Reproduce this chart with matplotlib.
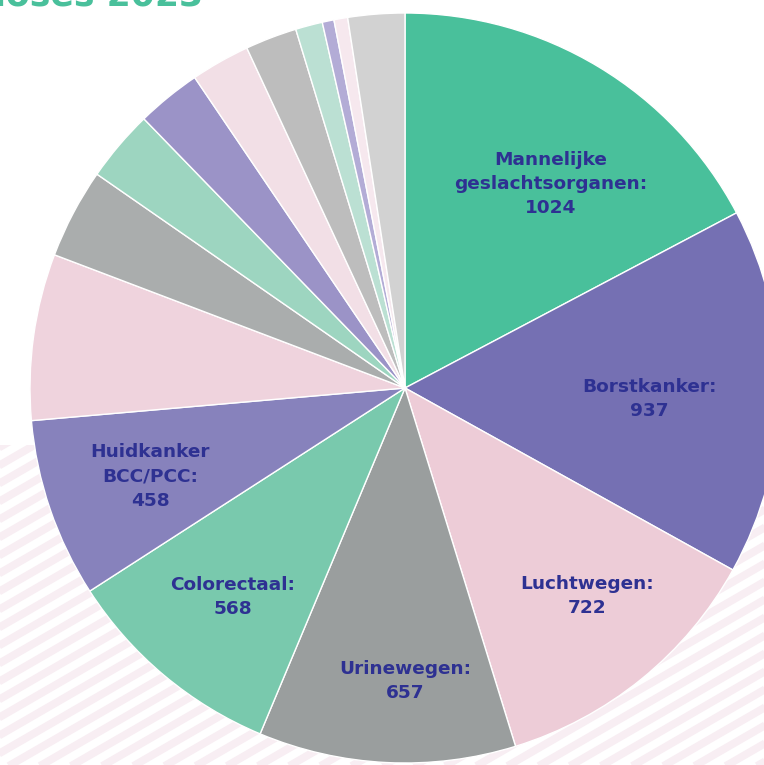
import numpy as np
import matplotlib
matplotlib.use("Agg")
import matplotlib.pyplot as plt
from matplotlib.patches import Rectangle

# ---- data ----
categories = ["Mannelijke\ngeslachtsorganen", "Borstkanker", "Luchtwegen", "Urinewegen",
              "Colorectaal", "Huidkanker\nBCC/PCC", "", "", "", "", "", "", "", "", "", ""]
values = [1024, 937, 722, 657, 568, 458, 425, 230, 183, 165, 151, 132, 69, 30, 35, 145]
colors = ["#49C09B", "#7570B3", "#EDCCD7", "#9A9E9E", "#79C9AD", "#8782BC",
          "#EFD3DD", "#AAADAD", "#9DD5C0", "#9B93C7", "#F2DFE6", "#BDBDBD",
          "#BBE0D3", "#B3ACD6", "#F6E8EE", "#D2D2D2"]
title = "Diagnoses 2023"

# ---- style / layout ----
W, H = 764, 765
cx, cy, R = 405, 377, 375
label_r = [0.669, 0.653, 0.736, 0.781, 0.723, 0.72]
label_dang = [-4.5, -2.0, 2.1, 2.8, 0.5, 0.3]
text_color = "#2E3192"

fig = plt.figure(figsize=(W / 100, H / 100), dpi=100)
ax = fig.add_axes([0, 0, 1, 1])

# background stripes
clip = Rectangle((0, 0), W, H - 445, transform=ax.transData, facecolor="none", edgecolor="none")
ax.add_patch(clip)
ang = np.deg2rad(30)
period = 18.0
for b in np.arange(-600, 800, period):
    xs = np.array([-50, W + 50])
    ys = b + np.tan(ang) * xs
    ln, = ax.plot(xs, ys, color="#F8EEF3", lw=5.6, solid_capstyle="butt", zorder=0)
    ln.set_clip_path(clip)

wedges, _ = ax.pie(values, colors=colors, startangle=90, counterclock=False,
                   radius=R, center=(cx, cy),
                   wedgeprops=dict(edgecolor="white", linewidth=1.0))
for w in wedges:
    w.set_zorder(2)

for i in range(6):
    w = wedges[i]
    mid = 0.5 * (w.theta1 + w.theta2) + label_dang[i]
    r = label_r[i] * R
    x = cx + r * np.cos(np.deg2rad(mid))
    y = cy + r * np.sin(np.deg2rad(mid))
    ax.text(x, y, f"{categories[i]}:\n{values[i]}", ha="center", va="center",
            fontsize=13.3, fontweight="bold", color=text_color, zorder=3,
            linespacing=1.45, family="DejaVu Sans")

ax.text(203, H - 6, title, ha="right", va="baseline", fontsize=25,
        fontweight="heavy", color="#49C09B", zorder=3)

ax.set_xlim(0, W)
ax.set_ylim(0, H)
ax.set_aspect("auto")
ax.axis("off")
fig.savefig("out.png", dpi=100)
